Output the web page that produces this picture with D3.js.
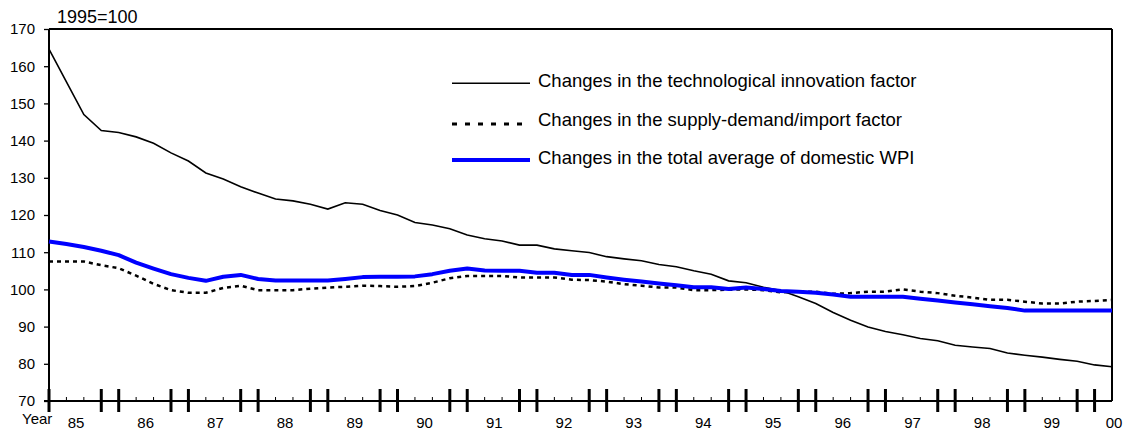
<!DOCTYPE html>
<html>
<head>
<meta charset="utf-8">
<script src="https://cdn.jsdelivr.net/npm/d3@7"></script>
<style>
  html, body { margin: 0; padding: 0; background: #fff; }
  svg { display: block; font-family: "Liberation Sans", Arial, sans-serif; }
</style>
</head>
<body>
<svg id="chart" width="1129" height="432"></svg>
<script>
// ---- data (quarterly, 1985 Q1 .. 2000 Q2) ----
const yearLabels = ["85","86","87","88","89","90","91","92","93","94","95","96","97","98","99","00"];
const yTicks = [70, 80, 90, 100, 110, 120, 130, 140, 150, 160, 170];

const techInnovation = [
  164.6, 155.8, 147.0, 142.7, 142.2, 141.0, 139.3, 136.7, 134.5, 131.3,
  129.7, 127.6, 125.9, 124.3, 123.8, 122.9, 121.6, 123.3, 122.9, 121.2,
  120.0, 118.0, 117.3, 116.3, 114.6, 113.6, 113.0, 111.9, 111.9, 110.9,
  110.4, 109.9, 108.8, 108.2, 107.7, 106.7, 106.1, 105.0, 104.1, 102.3,
  101.8, 100.6, 99.7, 98.0, 96.2, 93.8, 91.7, 89.9, 88.7, 87.8,
  86.8, 86.2, 85.0, 84.5, 84.1, 82.9, 82.3, 81.8, 81.2, 80.7,
  79.7, 79.2
];
const supplyDemand = [
  107.5, 107.5, 107.5, 106.5, 105.7, 103.7, 101.5, 99.8, 99.1, 99.1,
  100.4, 101.0, 99.8, 99.8, 99.8, 100.2, 100.5, 100.7, 101.0, 100.9,
  100.7, 100.9, 101.8, 103.0, 103.6, 103.6, 103.6, 103.2, 103.2, 103.2,
  102.6, 102.5, 102.1, 101.4, 101.0, 100.5, 100.5, 99.8, 99.8, 99.9,
  100.0, 99.8, 99.2, 99.4, 99.4, 98.8, 99.0, 99.4, 99.4, 100.0,
  99.4, 99.0, 98.3, 97.8, 97.2, 97.2, 96.7, 96.2, 96.2, 96.7,
  96.9, 97.2
];
const totalWPI = [
  112.9, 112.2, 111.4, 110.4, 109.2, 107.2, 105.6, 104.1, 103.1, 102.3,
  103.4, 103.9, 102.8, 102.4, 102.4, 102.4, 102.4, 102.8, 103.3, 103.4,
  103.4, 103.5, 104.1, 105.0, 105.6, 105.1, 105.0, 105.0, 104.5, 104.5,
  103.9, 103.9, 103.2, 102.6, 102.1, 101.6, 101.1, 100.6, 100.6, 100.1,
  100.5, 100.1, 99.6, 99.4, 99.1, 98.6, 98.0, 98.0, 98.0, 98.0,
  97.5, 97.0, 96.5, 96.0, 95.5, 95.0, 94.3, 94.3, 94.3, 94.3,
  94.3, 94.3
];
const legendLabels = [
  "Changes in the technological innovation factor",
  "Changes in the supply-demand/import factor",
  "Changes in the total average of domestic WPI"
];

// ---- layout ----
const svg = d3.select("#chart");
const pL = 49, pR = 1112, pT = 29, pB = 401;
const n = totalWPI.length;

const x = d3.scaleLinear().domain([0, n - 1]).range([pL, pR]);
const y = d3.scaleLinear().domain([70, 170]).range([pB, pT]);

// frame (top / right)
svg.append("line").attr("x1", pL).attr("x2", pR).attr("y1", pT).attr("y2", pT)
  .attr("stroke", "#000").attr("stroke-width", 2);
svg.append("line").attr("x1", pR).attr("x2", pR).attr("y1", pT).attr("y2", pB)
  .attr("stroke", "#000").attr("stroke-width", 2);

// y axis
const yAxis = svg.append("g").attr("transform", `translate(${pL},0)`)
  .call(d3.axisLeft(y).tickValues(yTicks).tickSize(5).tickPadding(9).tickFormat(d3.format("d")));
yAxis.select(".domain").attr("stroke", "#000").attr("stroke-width", 2)
  .attr("d", `M0,${pT}V${pB + 10}`);
yAxis.selectAll(".tick line").attr("stroke", "#000").attr("stroke-width", 1.3);
yAxis.selectAll(".tick text").attr("font-size", 15).attr("fill", "#000")
  .attr("font-family", "Liberation Sans, Arial, sans-serif");

// x axis line
svg.append("line").attr("x1", pL - 5).attr("x2", pR).attr("y1", pB).attr("y2", pB)
  .attr("stroke", "#000").attr("stroke-width", 2);

// x ticks (quarters): minor short ticks, heavy pairs around year boundaries
const tickIdx = d3.range(0, n);
const isHeavy = i => (i % 4 === 0 || i % 4 === 3);
svg.append("g").selectAll("line").data(tickIdx.filter(i => !isHeavy(i) && i < n - 1)).join("line")
  .attr("x1", d => x(d)).attr("x2", d => x(d))
  .attr("y1", pB - 4).attr("y2", pB)
  .attr("stroke", "#000").attr("stroke-width", 1);
svg.append("g").selectAll("line").data(tickIdx.filter(isHeavy)).join("line")
  .attr("x1", d => x(d)).attr("x2", d => x(d))
  .attr("y1", pB - 12).attr("y2", pB + 11)
  .attr("stroke", "#000").attr("stroke-width", 3);

// year labels
svg.append("g").selectAll("text").data(yearLabels).join("text")
  .attr("x", (d, k) => Math.min(x(4 * k + 1.55), 1114))
  .attr("y", 428)
  .attr("text-anchor", "middle")
  .attr("font-size", 15)
  .text(d => d);
svg.append("text").attr("x", 22).attr("y", 424).attr("font-size", 15).text("Year");

// unit label
svg.append("text").attr("x", 57).attr("y", 22.5).attr("font-size", 18).text("1995=100");

// lines
const line = d3.line().x((d, i) => x(i)).y(d => y(d));
svg.append("path").datum(supplyDemand).attr("d", line)
  .attr("fill", "none").attr("stroke", "#000").attr("stroke-width", 2.5)
  .attr("stroke-dasharray", "4,4");
svg.append("path").datum(techInnovation).attr("d", line)
  .attr("fill", "none").attr("stroke", "#000").attr("stroke-width", 1.6);
svg.append("path").datum(totalWPI).attr("d", line)
  .attr("fill", "none").attr("stroke", "#0000ff").attr("stroke-width", 4)
  .attr("stroke-linejoin", "round");

// legend
const legendStyles = [
  { stroke: "#000", width: 1.6, dash: null, ly: 83.3, ty: 87 },
  { stroke: "#000", width: 3, dash: "5,8", ly: 124, ty: 126 },
  { stroke: "#0000ff", width: 4, dash: null, ly: 160, ty: 164 }
];
const lg = svg.append("g");
legendLabels.forEach((lab, i) => {
  const s = legendStyles[i];
  lg.append("line").attr("x1", 452).attr("x2", 530).attr("y1", s.ly).attr("y2", s.ly)
    .attr("stroke", s.stroke).attr("stroke-width", s.width)
    .attr("stroke-dasharray", s.dash);
  lg.append("text").attr("x", 538).attr("y", s.ty).attr("font-size", 18.5).text(lab);
});
</script>
</body>
</html>
